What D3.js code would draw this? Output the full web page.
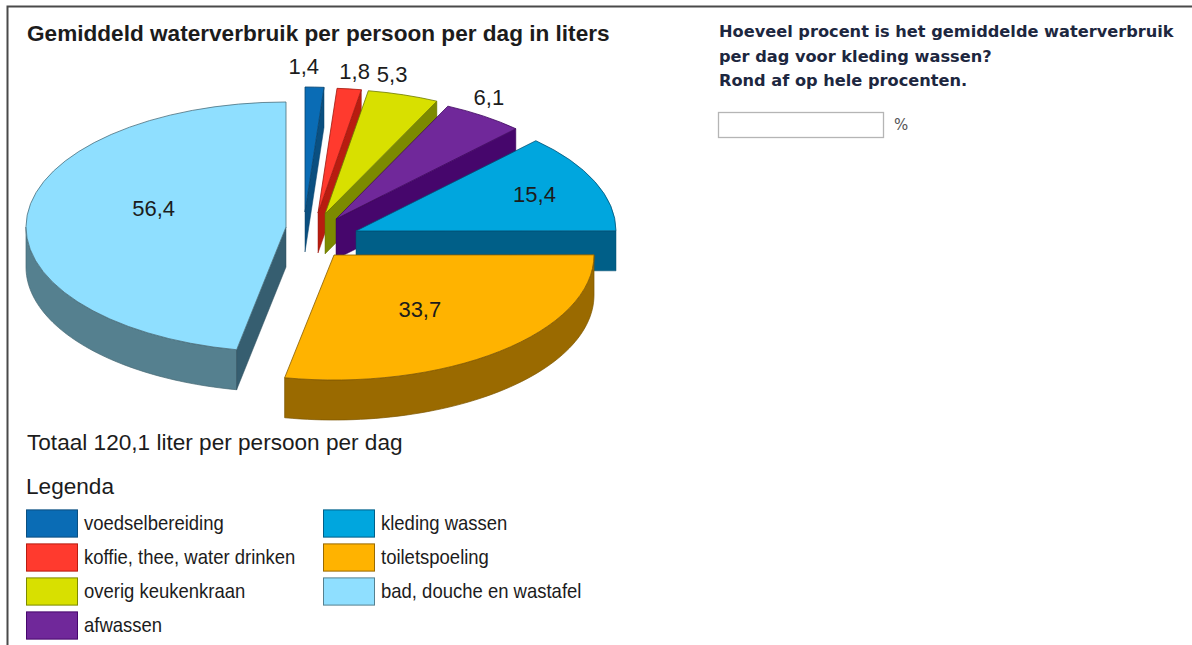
<!DOCTYPE html>
<html lang="nl">
<head>
<meta charset="utf-8">
<title>Gemiddeld waterverbruik</title>
<script src="https://cdn.jsdelivr.net/npm/d3@7/dist/d3.min.js"></script>
<style>
  html, body { margin: 0; padding: 0; background: #fff; }
  svg { display: block; }
  text { font-family: "Liberation Sans", Arial, sans-serif; fill: #1c1c1c; }
  .vraag { font-family: "DejaVu Sans", Verdana, sans-serif; font-weight: 700; font-size: 16.2px; fill: #1d2740; }
</style>
</head>
<body>
<svg id="chart" width="1192" height="645"></svg>
<script>
// Water use per person per day, in litres
const categories = ["voedselbereiding", "koffie, thee, water drinken", "overig keukenkraan", "afwassen", "kleding wassen", "toiletspoeling", "bad, douche en wastafel"];
const liters = [1.4, 1.8, 5.3, 6.1, 15.4, 33.7, 56.4];
const totalLiters = 120.1;
const topColors = ["#0a6cb5", "#ff3a2e", "#d8e000", "#70289a", "#00a6de", "#ffb300", "#8fdfff"];
const wallColors = ["#0a4f80", "#b81c10", "#7c8a00", "#46066c", "#005f88", "#9a6a00", "#55808f"];
const cutColors = ["#0a4f80", "#b81c10", "#7c8a00", "#46066c", "#005f88", "#9a6a00", "#365e70"];
const questionLines = ["Hoeveel procent is het gemiddelde waterverbruik", "per dag voor kleding wassen?", "Rond af op hele procenten."];

// Pie layout: tilted ellipse, wall height, per-slice explosion and label nudges
const rx = 260, ry = 125, wallHeight = 40;
const pivot = [320, 225];
const explode = [[-15, -13], [-2, -12], [5, -11], [16, -6], [36, 6], [14, 30], [-34, 2]];
const labelNudge = [[-6, -83], [21, -79], [28, -80], [79, -70], [59, -12], [3, 6], [-3, -13]];

const svg = d3.select("#chart");
const yScale = d3.scaleLinear().domain([-rx, rx]).range([-ry, ry]);
const decimalComma = d3.formatLocale({ decimal: ",", thousands: ".", grouping: [3], currency: ["", "€"] }).format(".1f");

const slices = d3.pie().sort(null).value(d => d).startAngle(0).endAngle(2 * Math.PI)(liters);
const arc = d3.arc().innerRadius(0).outerRadius(rx);
const line = d3.line();

// A point on the rim of the ellipse, relative to the slice apex
const rim = a => [rx * Math.sin(a), yScale(-rx * Math.cos(a))];

const pie = svg.append("g");
slices.forEach((s, i) => {
  const ax = pivot[0] + explode[i][0], ay = pivot[1] + explode[i][1];
  const g = pie.append("g").attr("transform", `translate(${ax},${ay})`);

  // Outer wall: only the part of the rim that faces the viewer
  const from = Math.max(s.startAngle, Math.PI / 2), to = Math.min(s.endAngle, 3 * Math.PI / 2);
  if (to > from) {
    const angles = d3.range(0, 61).map(k => from + (to - from) * k / 60);
    const upper = angles.map(rim);
    const lower = upper.map(p => [p[0], p[1] + wallHeight]).reverse();
    g.append("path").attr("d", line(upper.concat(lower)) + "Z")
      .attr("fill", wallColors[i]).attr("stroke", d3.color(wallColors[i]).darker(0.6)).attr("stroke-width", 0.7);
  }

  // Cut faces that turn towards the viewer
  const cutFace = a => {
    const p = rim(a);
    g.append("path")
      .attr("d", line([[0, 0], p, [p[0], p[1] + wallHeight], [0, wallHeight]]) + "Z")
      .attr("fill", cutColors[i]).attr("stroke", d3.color(cutColors[i]).darker(0.6)).attr("stroke-width", 0.5);
  };
  if (Math.sin(s.startAngle) < -1e-6) cutFace(s.startAngle);
  if (Math.sin(s.endAngle) > 1e-6) cutFace(s.endAngle);

  // Top face
  g.append("path").attr("d", arc(s))
    .attr("transform", `scale(1,${ry / rx})`)
    .attr("fill", topColors[i])
    .attr("stroke", d3.color(wallColors[i]).darker(0.4))
    .attr("stroke-width", 0.8)
    .attr("vector-effect", "non-scaling-stroke");
});

// Value labels sit on top of every slice
slices.forEach((s, i) => {
  const c = arc.centroid(s);
  svg.append("text")
    .attr("x", pivot[0] + explode[i][0] + c[0] + labelNudge[i][0])
    .attr("y", pivot[1] + explode[i][1] + yScale(c[1]) + labelNudge[i][1])
    .attr("text-anchor", "middle").attr("dominant-baseline", "central")
    .attr("font-size", 22)
    .text(decimalComma(s.data));
});

// Frame along the top and left
svg.append("path").attr("d", "M7.5,645V6.5H1192").attr("fill", "none").attr("stroke", "#4a4a4a").attr("stroke-width", 2);

// Headings
svg.append("text").attr("x", 27).attr("y", 41).attr("font-size", 22.6).attr("font-weight", 700).attr("fill", "#111")
  .text("Gemiddeld waterverbruik per persoon per dag in liters");
svg.append("text").attr("x", 27).attr("y", 450).attr("font-size", 22.6)
  .text(`Totaal ${decimalComma(totalLiters)} liter per persoon per dag`);
svg.append("text").attr("x", 26).attr("y", 494).attr("font-size", 22.6).text("Legenda");

// Legend in two columns, filled top to bottom
const rowScale = d3.scaleBand().domain(d3.range(4)).range([506, 642]).paddingInner(0.2).paddingOuter(0.1);
const colScale = d3.scaleOrdinal().domain([0, 1]).range([26, 323]);
categories.forEach((name, i) => {
  const col = i < 4 ? 0 : 1, row = i < 4 ? i : i - 4;
  const x = colScale(col), y = rowScale(row);
  svg.append("rect").attr("x", x + 0.5).attr("y", y + 0.5)
    .attr("width", 51).attr("height", rowScale.bandwidth())
    .attr("fill", topColors[i]).attr("stroke", wallColors[i]).attr("stroke-width", 1);
  svg.append("text").attr("x", x + 58).attr("y", y + 21).attr("font-size", 20)
    .attr("transform", `translate(${x + 58},0) scale(0.925,1) translate(${-(x + 58)},0)`)
    .text(name);
});

// Question beside the chart
const questionY = d3.scalePoint().domain(d3.range(questionLines.length)).range([37, 86]);
questionLines.forEach((t, i) => {
  svg.append("text").attr("class", "vraag").attr("x", 719).attr("y", questionY(i)).text(t);
});

// Empty answer box
svg.append("rect").attr("x", 718.5).attr("y", 112.5).attr("width", 165).attr("height", 25)
  .attr("fill", "#fff").attr("stroke", "#b5b5b5").attr("stroke-width", 1.3);
svg.append("text").attr("x", 894).attr("y", 130)
  .style("font-family", "'DejaVu Sans'").style("font-size", "15px").style("fill", "#555").text("%");
</script>
</body>
</html>
